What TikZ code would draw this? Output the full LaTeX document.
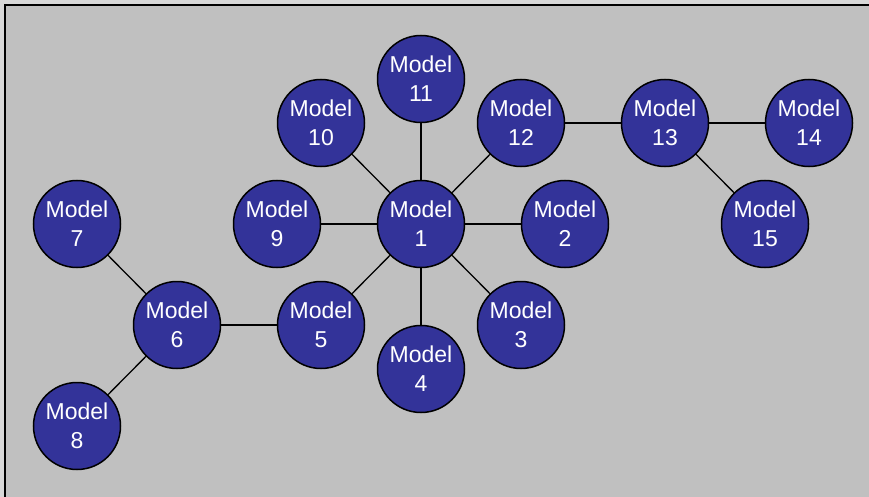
\documentclass[tikz,border=0pt]{standalone}
\usepackage{fontspec}
\setmainfont{Liberation Sans}
\definecolor{bg}{HTML}{C0C0C0}
\definecolor{outer}{HTML}{D8D8D8}
\definecolor{nodeblue}{HTML}{333399}
\begin{document}
\begin{tikzpicture}[x=1pt,y=-1pt,
  model/.style={circle,draw=black,line width=1.5pt,fill=nodeblue,minimum size=87pt,inner sep=0pt,
    text=white,align=center,font=\fontsize{23}{29}\selectfont},
  link/.style={line width=1.3pt,draw=black}]
\useasboundingbox (0,0) rectangle (869,497);
\fill[outer] (0,0) rectangle (869,497);
\fill[bg] (5,5) rectangle (869,497);
\draw[line width=2pt,black] (5,497) -- (5,5) -- (869,5);
\node[model] (m1) at (421,224) {Model\\1};
\node[model] (m2) at (565,224) {Model\\2};
\node[model] (m3) at (521,325) {Model\\3};
\node[model] (m4) at (421,369) {Model\\4};
\node[model] (m5) at (321,325) {Model\\5};
\node[model] (m6) at (177,325) {Model\\6};
\node[model] (m7) at (77,224) {Model\\7};
\node[model] (m8) at (77,426) {Model\\8};
\node[model] (m9) at (277,224) {Model\\9};
\node[model] (m10) at (321,123) {Model\\10};
\node[model] (m11) at (421,79) {Model\\11};
\node[model] (m12) at (521,123) {Model\\12};
\node[model] (m13) at (665,123) {Model\\13};
\node[model] (m14) at (809,123) {Model\\14};
\node[model] (m15) at (765,224) {Model\\15};
\foreach \t in {m2,m3,m4,m5,m9,m10,m11,m12}
  \draw[link] (m1) -- (\t);
\draw[link] (m5) -- (m6);
\draw[link] (m6) -- (m7);
\draw[link] (m6) -- (m8);
\draw[link] (m12) -- (m13);
\draw[link] (m13) -- (m14);
\draw[link] (m13) -- (m15);
\end{tikzpicture}
\end{document}
